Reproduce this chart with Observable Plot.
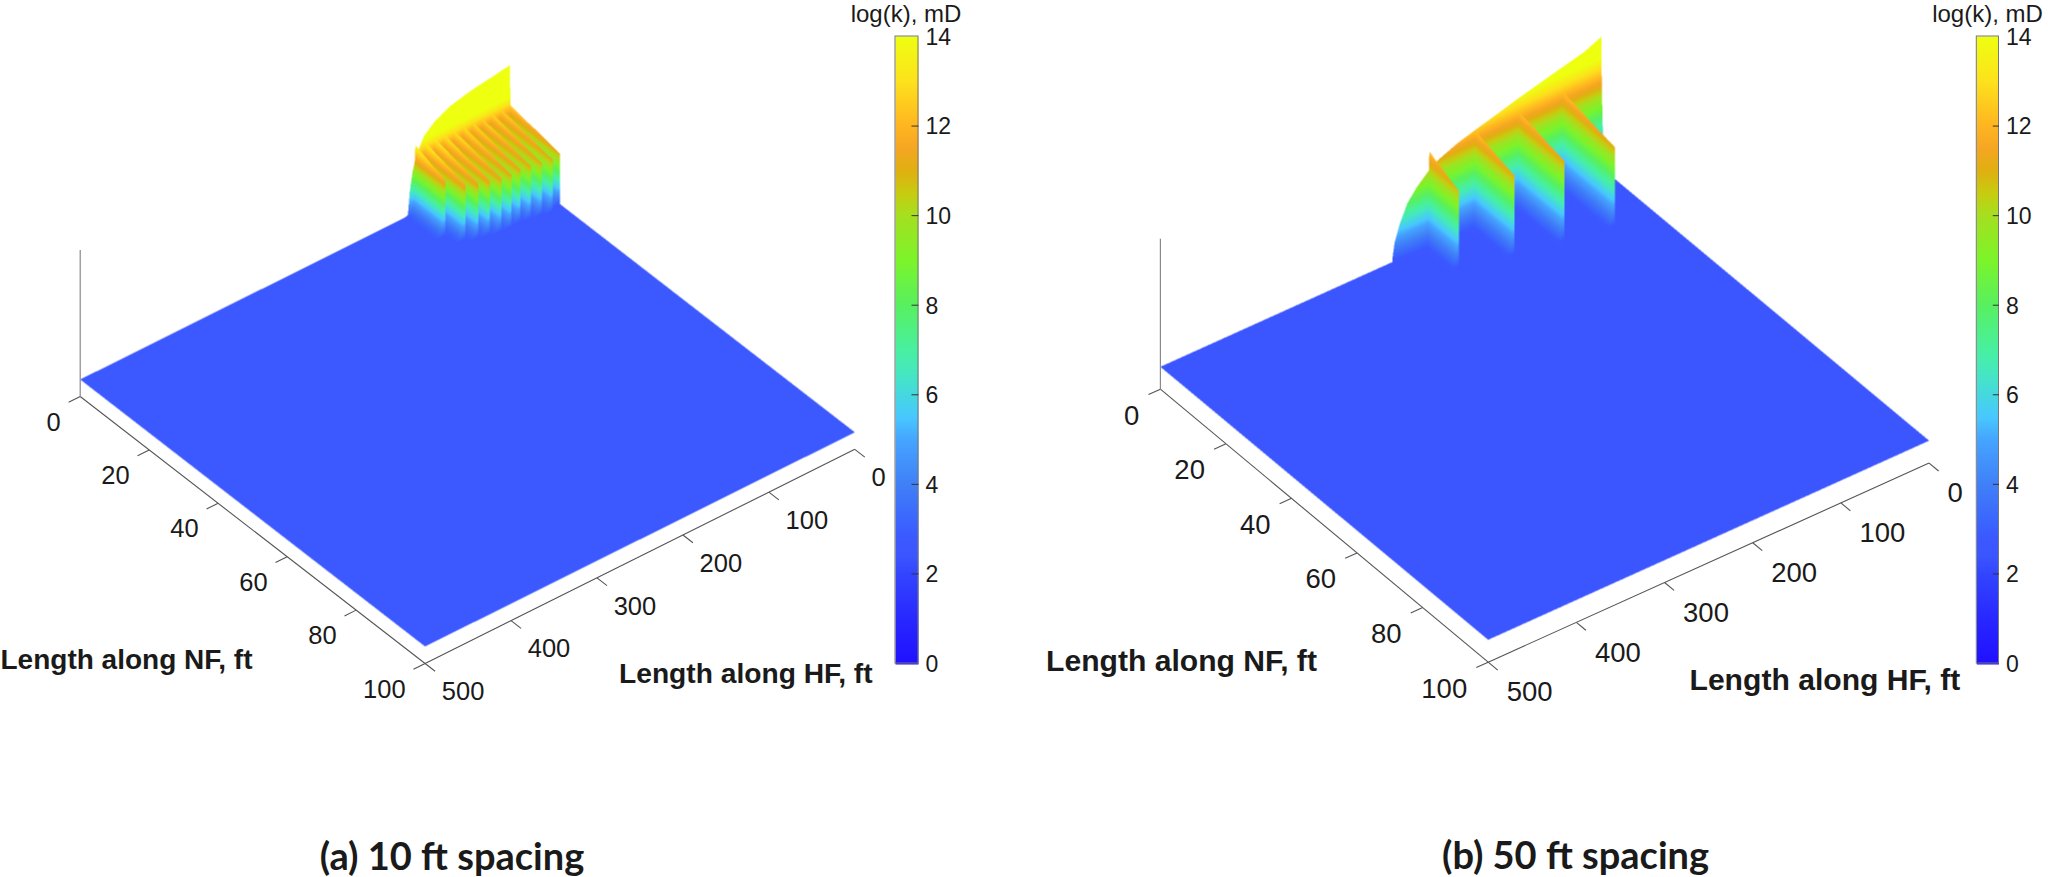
<!DOCTYPE html>
<html><head><meta charset="utf-8">
<style>html,body{margin:0;padding:0;background:#fff}svg{display:block}</style>
<script src="https://cdn.jsdelivr.net/npm/d3@7"></script>
<script src="https://cdn.jsdelivr.net/npm/@observablehq/plot@0.6"></script>
</head><body><script>
// ---- data ----
const nfTicks = [0, 20, 40, 60, 80, 100];
const hfTicks = [0, 100, 200, 300, 400, 500];
const logkTicks = [0, 2, 4, 6, 8, 10, 12, 14];

// main fracture crest: log(k) along the back edge (NF = 0)
const wallHfA = [0, 22.6, 45.8, 69, 88.5, 100, 106, 110, 113.7, 116.5, 118.8];
const wallZA  = [19.2, 18.7, 18.2, 17.4, 16, 14.6, 12.9, 11.7, 9.3, 6.7, 2.7];
const wallHfB = [0, 20, 50, 92, 118, 141, 163, 186, 194, 209, 220, 228.5, 234.5, 237];
const wallZB  = [16.3, 15.5, 14.8, 13.8, 13.1, 12.5, 11.9, 11, 10.5, 9.2, 7.9, 6.1, 4.3, 2.6];

// natural-fracture ribs: position along HF, reach along NF, crest at both ends
const ribHfA    = [0, 11, 22, 33, 44, 55, 66, 77, 88, 99, 110];
const ribLenA   = [14.5, 15.2, 14.8, 14.4, 14, 14.2, 14, 13.4, 12.9, 11.8, 8.7];
const ribStartA = [12.8, 12.9, 13, 13, 13.1, 13.2, 13.3, 13.4, 13.5, 13.6, 13.9];
const ribEndA   = [11.1, 11.2, 11.2, 11.3, 11.4, 11.4, 11.5, 11.6, 11.7, 11.8, 11.9];
const ribHfB    = [44, 94, 143, 195];
const ribLenB   = [16, 14, 12, 9];
const ribStartB = [12.4, 12.4, 12.4, 12.4];
const ribEndB   = [11.1, 11.2, 11.1, 10.8];

const colorStops  = [0, 1, 2, 2.4, 2.8, 3, 4, 5, 5.5, 6, 6.5, 7, 8, 9, 10, 10.5, 11, 11.5, 12, 13, 14];
const colorValues = ["#2010ff","#2828ff","#3345ff","#3b56ff","#3c58ff","#3a60ff","#4080f8","#45a5ff","#48c8ff","#45d8e0","#45e8c0","#48f0a0","#58f060","#7cf42a","#a5e020","#c8cc10","#e0b010","#f5a623","#ffb520","#fde21c","#eeff10"];

// ---- layout ----
const panelA = {
  D:[509.4,164.8], A:[79.7,379], C:[854.3,431.8], k:6.1, floor:2.79, zMax:24,
  wallHf:wallHfA, wallZ:wallZA, ribHf:ribHfA, ribLen:ribLenA, ribStart:ribStartA, ribEnd:ribEndA,
  lamN:0.4, lamH:2.2, box:[70,50,870,655],
  tickSize:25.5, nfDx:-19.5, nfDy:26, hfDx:16.7, hfDy:28.5,
  bar:[895,918], title:{x:905.5,y:14}, nfLabel:{x:0,y:660,s:28}, hfLabel:{x:618.5,y:673,s:28.2},
  caption:{text:"(a) 10 ft spacing",x:451.5,y:857}
};
const panelB = {
  D:[1600.8,167.2], A:[1159.9,366.3], C:[1928.6,440.2], k:9.4, floor:2.38, zMax:16,
  wallHf:wallHfB, wallZ:wallZB, ribHf:ribHfB, ribLen:ribLenB, ribStart:ribStartB, ribEnd:ribEndB,
  lamN:0.4, lamH:2.2, box:[1150,25,1945,650],
  tickSize:27.5, nfDx:-21, nfDy:26.6, hfDx:18.5, hfDy:30.5,
  bar:[1976.3,1998.5], title:{x:1987,y:14}, nfLabel:{x:1045.6,y:661,s:30.1}, hfLabel:{x:1689,y:680,s:30.1},
  caption:{text:"(b) 50 ft spacing",x:1575,y:856}
};
const barY = d3.scaleLinear([0,14],[663,36]);

function setup(p){
  p.hv=[(p.A[0]-p.D[0])/500,(p.A[1]-p.D[1])/500];
  p.nv=[(p.C[0]-p.D[0])/100,(p.C[1]-p.D[1])/100];
}
// hf, nf, log(k) -> page position
function project(p,hf,nf,z){
  return [p.D[0]+hf*p.hv[0]+nf*p.nv[0], p.D[1]+hf*p.hv[1]+nf*p.nv[1]-(z-p.floor)*p.k];
}
// surface height
function makeSurface(p){
  const wall=d3.scaleLinear().domain(p.wallHf).range(p.wallZ).clamp(true);
  const hfMax=p.wallHf[p.wallHf.length-1];
  const tab=new Float32Array(Math.ceil(hfMax*10)+2);
  for(let i=0;i<tab.length;i++) tab[i]=wall(i/10);
  const f=p.floor,n=p.ribHf.length;
  return (hf,nf)=>{
    let v=f;
    if(hf<=hfMax&&hf>=0){ const W=tab[Math.round(hf*10)]; const m=f+(W-f)*Math.exp(-nf/p.lamN); if(m>v)v=m; }
    for(let i=0;i<n;i++){
      const d=hf-p.ribHf[i];
      if(d>=0&&nf<=p.ribLen[i]){
        const zr=p.ribStart[i]+(p.ribEnd[i]-p.ribStart[i])*nf/p.ribLen[i];
        const r=f+(zr-f)*Math.exp(-d/p.lamH);
        if(r>v)v=r;
      }
    }
    return v;
  };
}
// per-column height-field rendering into a value grid for Plot.raster
function renderGrid(p){
  const S=2,[bx0,by0,bx1,by1]=p.box,W=(bx1-bx0)*S,H=(by1-by0)*S;
  const vals=new Float32Array(W*H).fill(NaN);
  const det=p.hv[0]*p.nv[1]-p.hv[1]*p.nv[0];
  for(let r=0;r<H;r++){const y=by0+(r+.5)/S-p.D[1];
    for(let c=0;c<W;c++){const x=bx0+(c+.5)/S-p.D[0];
      const hf=(x*p.nv[1]-y*p.nv[0])/det, nf=(p.hv[0]*y-p.hv[1]*x)/det;
      if(hf>=0&&hf<=500&&nf>=0&&nf<=100) vals[r*W+c]=p.floor;
    }}
  const surf=makeSurface(p),dn=0.005,nfStart=24,hfLimit=Math.max(d3.max(p.wallHf),d3.max(p.ribHf))+12;
  const ax=-p.hv[0];
  for(let c=0;c<W;c++){
    const sx=bx0+(c+.5)/S;
    if((p.D[0]-sx)/ax>hfLimit) continue;
    let top=Infinity,py=null,pz=null;
    for(let nf=nfStart;nf>=0;nf-=dn){
      const hf=(p.D[0]+nf*p.nv[0]-sx)/ax;
      if(hf<0) break;
      if(hf>500) continue;
      const z=surf(hf,nf);
      const y=p.D[1]+hf*p.hv[1]+nf*p.nv[1]-(z-p.floor)*p.k;
      if(py!==null&&y<top&&top<Infinity){
        const r0=Math.max(0,Math.ceil((y-by0)*S-.5)), r1=Math.min(H-1,Math.floor((top-by0)*S-.5));
        for(let r=r0;r<=r1;r++){
          const yy=by0+(r+.5)/S; const t=py===y?1:(yy-py)/(y-py);
          vals[r*W+c]=pz+t*(z-pz);
        }
      }
      if(y<top) top=y;
      py=y;pz=z;
    }
  }
  return {vals,W,H};
}

const marks=[];
const textColor="#1a1a1a", tickFont="'Liberation Sans',Arial,sans-serif";
for(const p of [panelA,panelB]){
  setup(p);
  const g=renderGrid(p);
  marks.push(Plot.raster(g.vals,{width:g.W,height:g.H,x1:p.box[0],y1:p.box[1],x2:p.box[2],y2:p.box[3],fill:d=>d}));
  // axis frame
  const seg=(a,b)=>({x1:a[0],y1:a[1],x2:b[0],y2:b[1]});
  const lines=[seg(project(p,500,0,0),project(p,500,100,0)),seg(project(p,0,100,0),project(p,500,100,0))];
  for(const t of nfTicks) lines.push(seg(project(p,500,t,0),project(p,513.5,t,0)));
  for(const t of hfTicks) lines.push(seg(project(p,t,100,0),project(p,t,102.9,0)));
  marks.push(Plot.link(lines,{x1:"x1",y1:"y1",x2:"x2",y2:"y2",stroke:"#555",strokeWidth:1.1}));
  marks.push(Plot.link([seg(project(p,500,0,0),project(p,500,0,p.zMax))],{x1:"x1",y1:"y1",x2:"x2",y2:"y2",stroke:"#8a8a8a",strokeWidth:1.2}));
  marks.push(Plot.text(nfTicks,{x:t=>project(p,500,t,0)[0],y:t=>project(p,500,t,0)[1],text:d=>String(d),dx:p.nfDx,dy:p.nfDy,textAnchor:"end",fontSize:p.tickSize,fontFamily:tickFont,fill:textColor}));
  marks.push(Plot.text(hfTicks,{x:t=>project(p,t,100,0)[0],y:t=>project(p,t,100,0)[1],text:d=>String(d),dx:p.hfDx,dy:p.hfDy,textAnchor:"start",fontSize:p.tickSize,fontFamily:tickFont,fill:textColor}));
  // axis titles
  marks.push(Plot.text([p.nfLabel],{x:"x",y:"y",text:()=>"Length along NF, ft",textAnchor:"start",fontSize:p.nfLabel.s,fontWeight:"bold",fontFamily:tickFont,fill:textColor}));
  marks.push(Plot.text([p.hfLabel],{x:"x",y:"y",text:()=>"Length along HF, ft",textAnchor:"start",fontSize:p.hfLabel.s,fontWeight:"bold",fontFamily:tickFont,fill:textColor}));
  marks.push(Plot.text([p.caption],{x:"x",y:"y",text:"text",textAnchor:"middle",fontSize:38,fontWeight:"bold",fontFamily:"Lato,sans-serif",fill:textColor}));
  // colour bar
  const N=628, ramp=new Float32Array(N);
  for(let i=0;i<N;i++) ramp[i]=barY.invert(36+i+.5);
  marks.push(Plot.raster(ramp,{width:1,height:N,x1:p.bar[0],x2:p.bar[1],y1:36,y2:664,fill:d=>d}));
  marks.push(Plot.rect([0],{x1:p.bar[0],x2:p.bar[1],y1:36,y2:663,stroke:"#777",strokeWidth:1,fill:"none"}));
  marks.push(Plot.link(logkTicks.filter(t=>t>0&&t<14),{x1:p.bar[0]+16,x2:p.bar[1],y1:t=>barY(t),y2:t=>barY(t),stroke:"#333",strokeWidth:1}));
  marks.push(Plot.text(logkTicks,{x:p.bar[1]+7,y:t=>barY(t)+1,text:d=>String(d),textAnchor:"start",fontSize:23,fontFamily:tickFont,fill:textColor}));
  marks.push(Plot.text([p.title],{x:"x",y:"y",text:()=>"log(k), mD",textAnchor:"middle",fontSize:24,fontFamily:tickFont,fill:textColor}));
}

const chart=Plot.plot({
  width:2048,height:877,margin:0,
  style:{background:"#fff",overflow:"hidden"},
  x:{domain:[0,2048],range:[0,2048],axis:null},
  y:{domain:[0,877],range:[0,877],axis:null},
  color:{type:"linear",domain:colorStops,range:colorValues,clamp:true,legend:false},
  marks
});
document.body.appendChild(chart);
</script></body></html>
